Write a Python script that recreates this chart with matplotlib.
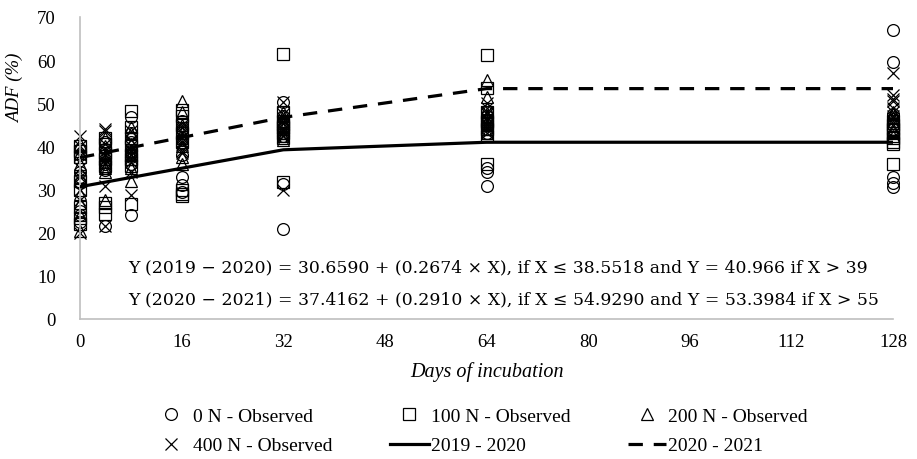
import matplotlib
matplotlib.use("Agg")
import matplotlib.pyplot as plt

days = [0, 4, 8, 16, 32, 64, 128]

obs_0N = [
    [24, 25, 31.5, 33, 34, 38, 39.5, 22.5],
    [21.5, 34.5, 36, 38, 39.5, 41, 36.5, 35],
    [24, 46.8, 43, 41, 39, 37.5, 36, 38.5],
    [29.5, 31, 33, 42, 44, 46, 41.5, 38],
    [20.8, 31.3, 42.5, 44, 45.5, 47, 50.4, 43],
    [30.9, 34, 35, 43, 45, 47, 44, 46],
    [30.5, 31.5, 33, 67, 59.5, 45, 47.5, 44],
]
obs_100N = [
    [22, 23.5, 30, 32, 37.5, 39, 40, 26],
    [24.3, 26, 27, 37, 38.5, 40.5, 42, 35.5],
    [26.7, 48.3, 44.5, 42, 40, 38, 35.5, 37],
    [28.5, 29, 30, 43, 45, 47, 48.5, 41],
    [61.5, 31.8, 43, 44.5, 46, 48, 42, 45],
    [61.2, 53.5, 35.9, 44, 46, 48, 42.5, 45.5],
    [36, 42, 45, 44, 46, 41, 43, 40.5],
]
obs_200N = [
    [20.5, 24, 29, 33, 38.5, 40.5, 36, 27],
    [27.5, 34, 36.5, 38, 40, 42, 35, 37],
    [32, 35, 38, 40.5, 43, 44.5, 37, 39],
    [37.5, 36, 50.5, 48, 45, 43, 40, 42],
    [42.5, 44, 46, 48, 43, 45.5, 41.5, 47],
    [55.5, 51.4, 49, 47, 45, 43, 44, 46],
    [46.5, 47.5, 44, 45.5, 42.5, 43.5, 48, 46],
]
obs_400N = [
    [20, 27.5, 33, 35, 40, 42.5, 38, 30],
    [21.5, 30.9, 36, 38, 40.5, 43.5, 44, 39],
    [28.8, 34, 36.5, 39, 41.5, 43.5, 40, 38],
    [39, 41, 43, 45, 42, 40.5, 44.5, 38.5],
    [30, 42.5, 44, 45.5, 47.5, 50.3, 43, 46],
    [43, 44.5, 46, 47.5, 49, 45, 48, 50],
    [57, 51, 49, 48, 50.5, 47, 52, 46],
]

fit_2019 = [30.66, 31.73, 32.80, 34.94, 39.22, 40.97, 40.97]
fit_2020 = [37.42, 38.58, 39.74, 42.07, 46.73, 53.40, 53.40]

eq1 = "Y (2019 \u2212 2020) = 30.6590 + (0.2674 \u00d7 X), if X \u2264 38.5518 and Y = 40.966 if X > 39"
eq2 = "Y (2020 \u2212 2021) = 37.4162 + (0.2910 \u00d7 X), if X \u2264 54.9290 and Y = 53.3984 if X > 55"

serif = ["Liberation Serif", "DejaVu Serif"]
plt.rcParams["font.family"] = serif

W, H = 917, 460
fig = plt.figure(figsize=(W / 100, H / 100), dpi=100)
ax = fig.add_axes([80 / W, 1 - 320 / H, (893 - 80) / W, (320 - 18) / H])

ms = 8.5
mstyle = dict(linestyle="none", markerfacecolor="none", markeredgecolor="black",
              markeredgewidth=0.9, markersize=ms, clip_on=False)

def scatter_group(data, marker, label):
    xs, ys = [], []
    for d, vals in zip(days, data):
        xs += [d] * len(vals)
        ys += vals
    ax.plot(xs, ys, marker=marker, label=label, **mstyle)

scatter_group(obs_0N, "o", "0 N - Observed")
scatter_group(obs_100N, "s", "100 N - Observed")
scatter_group(obs_200N, "^", "200 N - Observed")
scatter_group(obs_400N, "x", "400 N - Observed")

ax.plot(days, fit_2019, color="black", lw=2.3, label="2019 - 2020", zorder=5)
ax.plot(days, fit_2020, color="black", lw=2.3, dashes=(4.5, 3.4), label="2020 - 2021", zorder=5)

ax.set_xlim(0, 128)
ax.set_ylim(0, 70)
ax.set_xticks(range(0, 129, 16))
ax.set_yticks(range(0, 71, 10))
ax.tick_params(axis="both", length=0, labelsize=13.5)
ax.tick_params(axis="x", pad=10)
ax.tick_params(axis="y", pad=17.5)
for s in ["top", "right"]:
    ax.spines[s].set_visible(False)
for s in ["left", "bottom"]:
    ax.spines[s].set_color("#bfbfbf")
    ax.spines[s].set_linewidth(1.2)

eqfont = ["DejaVu Serif"]
ax.text(7.6, 12.0, eq1, fontsize=12.45, va="center", ha="left", family=eqfont)
ax.text(7.6, 4.6, eq2, fontsize=12.45, va="center", ha="left", family=eqfont)

fig.text(487 / W, 1 - 372 / H, "Days of incubation", fontsize=14.5, style="italic",
         ha="center", va="center")
fig.text(15 / W, 1 - 88 / H, "ADF (%)", fontsize=13.5, style="italic",
         ha="center", va="center", rotation=90)

h, l = ax.get_legend_handles_labels()
order = [0, 3, 1, 4, 2, 5]
fig.legend([h[i] for i in order], [l[i] for i in order], ncol=3,
           loc="center", bbox_to_anchor=(480 / W, 1 - 432 / H), frameon=False,
           fontsize=14, handlelength=2.0, handletextpad=0.1, columnspacing=2.95,
           labelspacing=0.6)

fig.savefig("out.png", dpi=100)
